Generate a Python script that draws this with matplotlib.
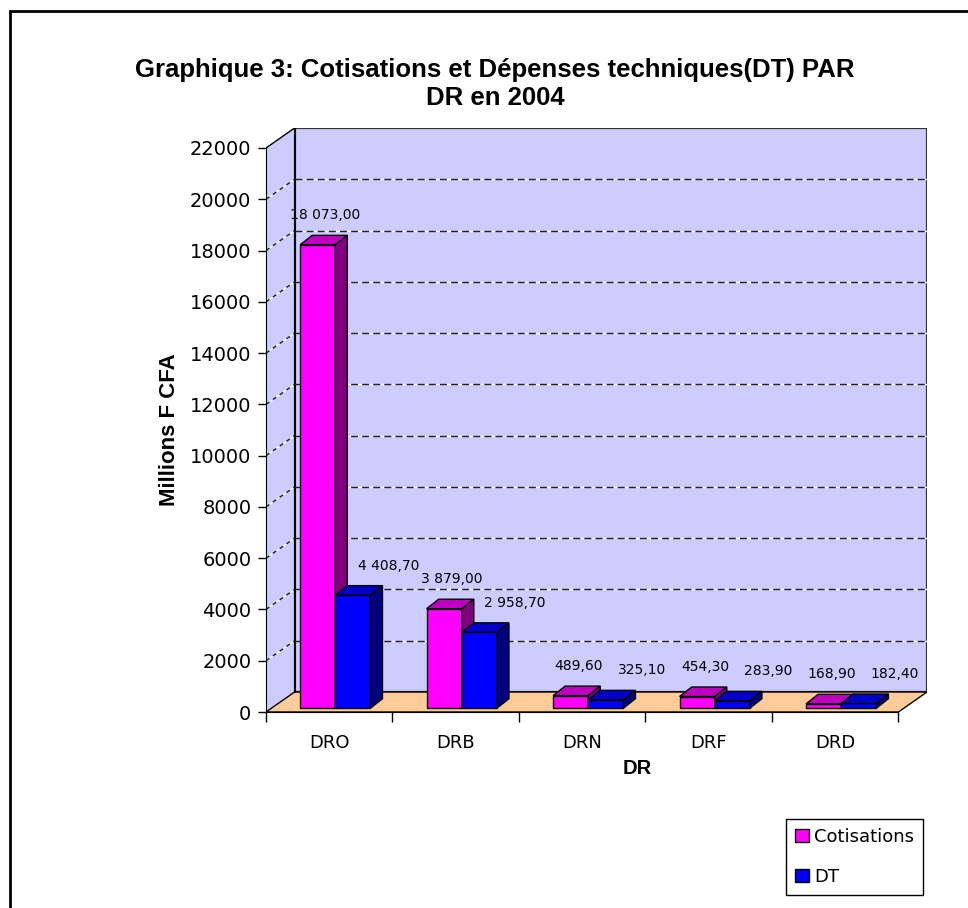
import matplotlib
matplotlib.use("Agg")
import matplotlib.pyplot as plt
from matplotlib.patches import Polygon, Rectangle, Patch

categories = ["DRO", "DRB", "DRN", "DRF", "DRD"]
cotisations = [18073.00, 3879.00, 489.60, 454.30, 168.90]
depenses_dt = [4408.70, 2958.70, 325.10, 283.90, 182.40]
series_names = ["Cotisations", "DT"]
y_ticks = list(range(0, 22001, 2000))

# pseudo-3D geometry (data units)
wall_dx, wall_dy = 0.226, 780
bar_dx, bar_dy = 0.095, 370
bar_w, bar_base = 0.278, 150

front_cols = ["#FF00FF", "#0000FF"]
top_cols = ["#C000C0", "#0000C8"]
side_cols = ["#800080", "#000080"]


def fr(v):
    return f"{v:,.2f}".replace(",", " ").replace(".", ",")


fig = plt.figure(figsize=(9.68, 9.08), dpi=100)
ax = fig.add_axes([266 / 968, (908 - 712) / 908, (927 - 266) / 968, (712 - 128) / 908])
ax.set_xlim(0, len(categories) + wall_dx)
ax.set_ylim(0, y_ticks[-1] + wall_dy)
ax.patch.set_visible(False)

n = len(categories)
ymax = y_ticks[-1]

# walls and floor
ax.add_patch(Polygon([(0, 0), (wall_dx, wall_dy), (wall_dx, ymax + wall_dy), (0, ymax)],
                     facecolor="#CCCCFF", edgecolor="none", zorder=0))
ax.add_patch(Rectangle((wall_dx, wall_dy), n, ymax, facecolor="#CCCCFF",
                       edgecolor="#333333", lw=1.6, zorder=0))
ax.add_patch(Polygon([(0, 0), (n, 0), (n + wall_dx, wall_dy), (wall_dx, wall_dy)],
                     facecolor="#FFCC99", edgecolor="black", lw=1, zorder=1))
ax.plot([0, wall_dx], [ymax, ymax + wall_dy], color="black", lw=1, zorder=1)
ax.plot([wall_dx, wall_dx], [wall_dy, ymax + wall_dy], color="black", lw=1.2, zorder=1)

for v in y_ticks[1:-1]:
    ax.plot([wall_dx, n + wall_dx], [v + wall_dy] * 2, color="#222222", lw=1,
            ls=(0, (5, 3)), gapcolor="white", zorder=1)
    ax.plot([0, wall_dx], [v, v + wall_dy], color="#222222", lw=1,
            ls=(0, (3, 3)), gapcolor="white", zorder=1)

# bars
for i in range(n):
    for j, vals in enumerate([cotisations, depenses_dt]):
        v = vals[i]
        x0 = i + 0.27 + j * bar_w
        top = bar_base + v
        ax.bar(x0, v, bottom=bar_base, width=bar_w, align="edge", color=front_cols[j],
               edgecolor="black", lw=1, zorder=3)
        ax.add_patch(Polygon([(x0, top), (x0 + bar_w, top), (x0 + bar_w + bar_dx, top + bar_dy),
                              (x0 + bar_dx, top + bar_dy)], facecolor=top_cols[j],
                             edgecolor="black", lw=1, zorder=3))
        ax.add_patch(Polygon([(x0 + bar_w, bar_base), (x0 + bar_w + bar_dx, bar_base + bar_dy),
                              (x0 + bar_w + bar_dx, top + bar_dy), (x0 + bar_w, top)],
                             facecolor=side_cols[j], edgecolor="black", lw=1, zorder=3))
        ax.text(i + 0.47 + j * 0.5, top + 1150, fr(v), ha="center", va="center",
                fontsize=10, family="DejaVu Sans", zorder=4)

# axes
for s in ["top", "right"]:
    ax.spines[s].set_visible(False)
ax.spines["left"].set_bounds(0, ymax)
ax.spines["bottom"].set_bounds(0, n)
ax.spines["left"].set_zorder(2)
ax.spines["bottom"].set_zorder(2)

ax.set_yticks(y_ticks)
ax.set_yticklabels([str(t) for t in y_ticks], family="DejaVu Sans", fontsize=14)
ax.tick_params(axis="y", direction="out", length=6, width=1, pad=4.5)

ax.set_xticks(range(n + 1))
ax.set_xticklabels([])
ax.set_xticks([i + 0.5 for i in range(n)], minor=True)
ax.set_xticklabels(categories, minor=True, family="DejaVu Sans", fontsize=13)
ax.tick_params(axis="x", which="major", direction="out", length=7, width=1)
ax.tick_params(axis="x", which="minor", length=0, pad=16)

ax.set_ylabel("Millions F CFA", family="Liberation Sans", fontweight="bold", fontsize=16)
ax.yaxis.set_label_coords(-0.13, 0.483)
ax.set_xlabel("DR", family="Liberation Sans", fontweight="bold", fontsize=14.5)
ax.xaxis.set_label_coords(0.561, -0.080)

fig.text(495 / 968, 1 - 84 / 908,
         "Graphique 3: Cotisations et Dépenses techniques(DT) PAR\nDR en 2004",
         ha="center", va="center", fontsize=18.5, fontweight="bold",
         family="Liberation Sans", linespacing=1.25)

handles = [Patch(facecolor=front_cols[k], edgecolor="black", lw=1) for k in range(2)]
fig.legend(handles, series_names, loc="upper right", bbox_to_anchor=(923 / 968, 1 - 819 / 908),
           frameon=True, fancybox=False, edgecolor="black", framealpha=1,
           prop={"family": "DejaVu Sans", "size": 13}, handlelength=0.75, handleheight=0.75,
           handletextpad=0.3, labelspacing=1.2, borderaxespad=0, borderpad=0.5)

fig.add_artist(Rectangle((10 / 968, -0.1), 1.2, 1 - 11 / 908 + 0.1, transform=fig.transFigure,
                         facecolor="none", edgecolor="black", lw=2))

fig.savefig("out.png", dpi=100)
